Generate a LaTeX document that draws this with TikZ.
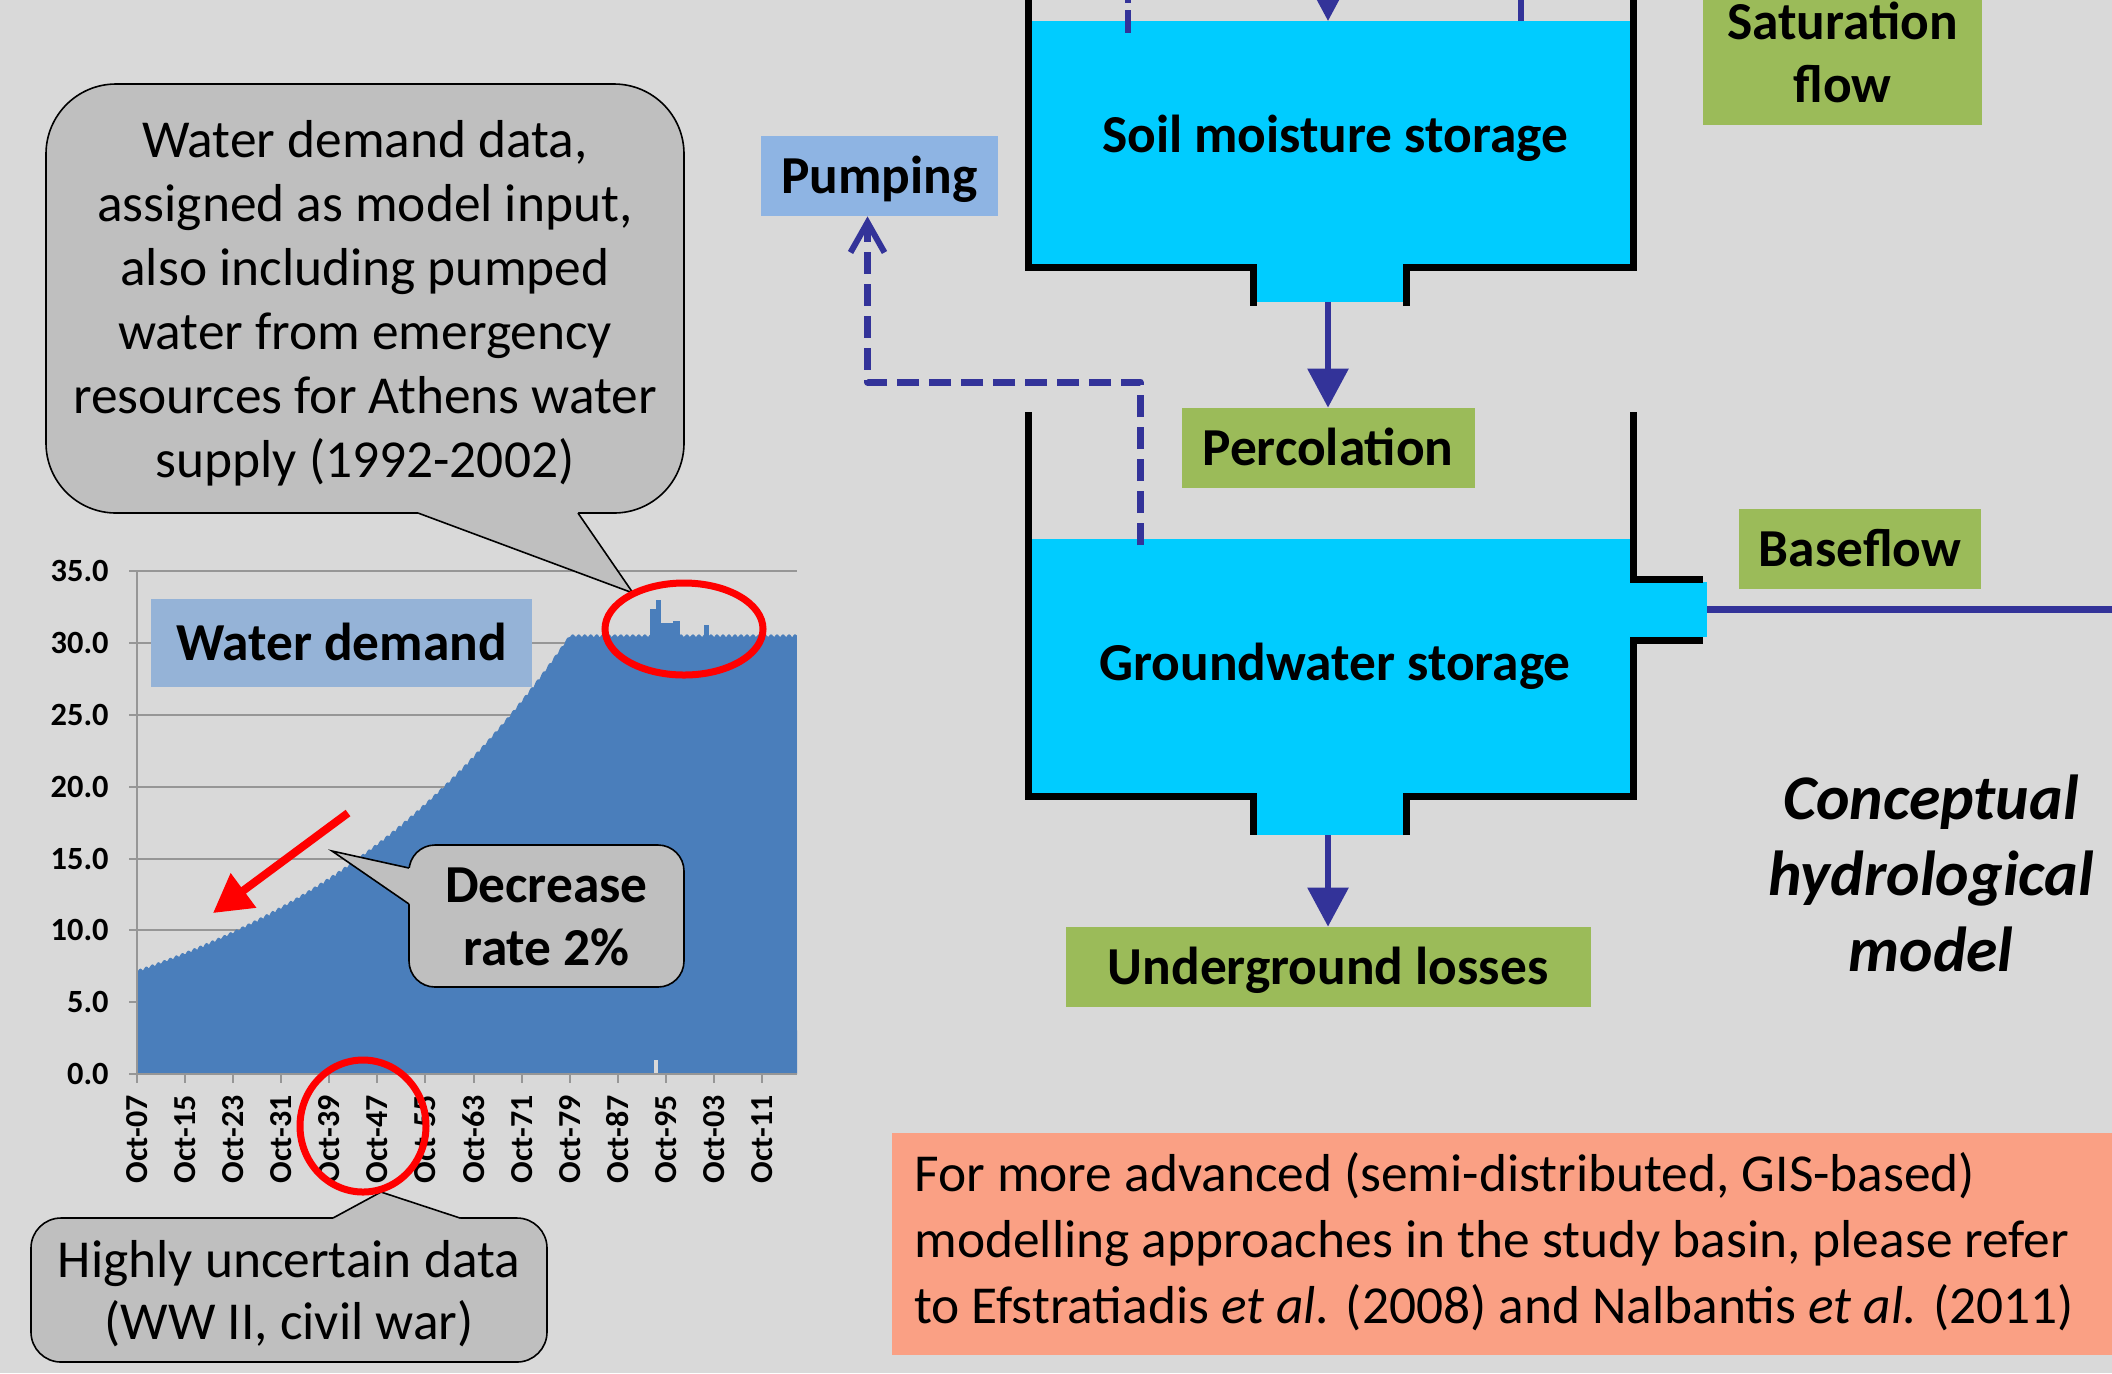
\documentclass[tikz,border=0pt]{standalone}
\usepackage{fontspec}
\setmainfont{Carlito}
\usetikzlibrary{arrows.meta}
\definecolor{bgc}{RGB}{217,217,217}
\definecolor{callgray}{RGB}{191,191,191}
\definecolor{demandblue}{RGB}{74,126,187}
\definecolor{labelblue}{RGB}{149,179,215}
\definecolor{pumpblue}{RGB}{142,180,227}
\definecolor{boxgreen}{RGB}{155,187,89}
\definecolor{waterc}{RGB}{0,204,255}
\definecolor{flowblue}{RGB}{51,51,153}
\definecolor{salmonc}{RGB}{250,160,132}
\definecolor{gridgray}{RGB}{150,150,150}
\tikzset{
  wall/.style={line width=3.5pt, black, line join=miter},
  waterfill/.style={fill=waterc},
  flow/.style={line width=3pt, flowblue},
  flowarrow/.style={flow, -{Triangle[length=19.5pt,width=20pt]}},
  pumpline/.style={line width=3.5pt, flowblue, dash pattern=on 11pt off 5pt, line join=round,
     -{Straight Barb[length=15pt,width=17pt,line width=3pt]}},
  onebox/.style={inner sep=0pt, minimum height=40pt, text height=20pt, text depth=2.5pt,
     font=\bfseries\fontsize{26.7pt}{32pt}\selectfont},
  greenbox/.style={onebox, fill=boxgreen},
  bigtext/.style={inner sep=0pt, text height=20pt, text depth=2.5pt,
     font=\bfseries\fontsize{26.7pt}{32pt}\selectfont},
  calltext/.style={inner sep=0pt, align=center, font=\fontsize{26.7pt}{32pt}\selectfont},
  callshape/.style={fill=callgray, draw=black, line width=0.8pt},
  callline/.style={draw=black, line width=0.8pt, line join=miter},
  gridl/.style={gridgray, line width=1pt},
  ylab/.style={inner sep=0pt, anchor=east, font=\bfseries\fontsize{16.2pt}{18pt}\selectfont},
  xlab/.style={inner sep=0pt, anchor=east, rotate=90, font=\bfseries\fontsize{16pt}{18pt}\selectfont},
  redring/.style={red, line width=3.5pt},
}
\begin{document}
\begin{tikzpicture}[x=0.5pt,y=-0.5pt]
\useasboundingbox (0,0) rectangle (2112,1373);
\fill[bgc] (0,0) rectangle (2112,1373);
\begin{scope}
\clip (0,0) rectangle (2112,1373);

% ---------------- chart ----------------
\foreach \i/\lab in {0/0.0,1/5.0,2/10.0,3/15.0,4/20.0,5/25.0,6/30.0,7/35.0}{
  \draw[gridl] (129,{1074-71.8*\i}) -- (797,{1074-71.8*\i});
  \node[ylab] (yl\i) at (109,{1074-71.8*\i}) {\lab};
}
\fill[demandblue] (137,1074) -- plot[domain=0:109.8,samples=560]
  ({137+6.01*\x},{1074-14.36*(min(30.4,30.4*exp((72-\x)*ln(0.98)))+0.22*sin(180*(\x-floor(\x)))))})
  -- (797,1074) -- cycle;
\fill[demandblue] (650,640) rectangle (655.5,609);
\fill[demandblue] (655.5,640) rectangle (661,600);
\fill[demandblue] (661,640) rectangle (679.5,623);
\fill[demandblue] (673,640) rectangle (679.5,620.5);
\fill[demandblue] (704,640) rectangle (709,624.5);
\fill[bgc] (654,1060) rectangle (658,1074);
\draw[gridl] (137,571) -- (137,1074) -- (797,1074);
\foreach \i/\lab in {0/07,1/15,2/23,3/31,4/39,5/47,6/55,7/63,8/71,9/79,10/87,11/95,12/03,13/11}{
  \draw[gridl] ({137+48.08*\i},1074) -- ++(0,9);
  \node[xlab] (xl\i) at ({137+48.08*\i},1095) {Oct-\lab};
}
\node[onebox, fill=labelblue, minimum width=190.5pt, minimum height=44pt] (wdlabel) at (341.5,643) {Water demand};

% red arrow
\coordinate (rarA) at (348,813);
\coordinate (rarB) at (213,913);
\draw[red, line width=4pt, -{Triangle[length=19pt,width=20.5pt]}] (rarA) -- (rarB);

% ---------------- callouts ----------------
\draw[callshape, rounded corners=35pt] (46,84) rectangle (684,513);
\fill[callgray] (418,505) -- (418,513) -- (633,593) -- (578,513) -- (578,505) -- cycle;
\draw[callline] (418,513) -- (633,593) -- (578,513);
\node[calltext] (call1) at (365,303) {Water demand data,\\assigned as model input,\\also including pumped\\water from emergency\\resources for Athens water\\supply (1992-2002)};

\draw[callshape, rounded corners=13pt] (409,845) rectangle (684,987);
\fill[callgray] (409,868) -- (332,851) -- (409,904) -- (416,904) -- (416,868) -- cycle;
\draw[callline] (409,868) -- (332,851) -- (409,904);
\node[calltext, font=\bfseries\fontsize{26.7pt}{31.5pt}\selectfont] (call2) at (546.5,917) {Decrease\\rate 2\%};

\draw[callshape, rounded corners=15pt] (31,1218) rectangle (547,1362);
\fill[callgray] (333,1226) -- (333,1218) -- (381,1192) -- (460,1218) -- (460,1226) -- cycle;
\draw[callline] (333,1218) -- (381,1192) -- (460,1218);
\node[calltext, font=\fontsize{26.7pt}{31pt}\selectfont] (call3) at (289,1294) {Highly uncertain data\\(WW II, civil war)};

% red ellipses
\draw[redring] (684,629) ellipse [x radius=39.5pt, y radius=23pt];
\draw[redring] (363,1126) ellipse [x radius=31.5pt, y radius=33pt];

% ---------------- tanks ----------------
% soil moisture tank
\fill[waterfill] (1031,21) rectangle (1630,267);
\fill[waterfill] (1253,264) rectangle (1406,302);
\draw[wall] (1028,-10) -- (1028,267) -- (1253,267) -- (1253,306);
\draw[wall] (1406,306) -- (1406,267) -- (1633,267) -- (1633,-10);
\node[bigtext] (soiltxt) at (1335,135) {Soil moisture storage};

% groundwater tank
\fill[waterfill] (1031,539) rectangle (1630,796);
\fill[waterfill] (1253,793) rectangle (1406,835);
\fill[waterfill] (1628,582) rectangle (1707,637);
\draw[wall] (1028,412) -- (1028,796) -- (1253,796) -- (1253,835);
\draw[wall] (1406,835) -- (1406,796) -- (1633,796) -- (1633,640) -- (1703,640);
\draw[wall] (1703,579) -- (1633,579) -- (1633,412);
\node[bigtext] (gwtxt) at (1335,663) {Groundwater storage};

% ---------------- boxes ----------------
\node[onebox, fill=pumpblue, minimum width=118.5pt] (pump) at (879.5,176) {Pumping};
\node[greenbox, minimum width=146.5pt] (perc) at (1328,448) {Percolation};
\node[greenbox, minimum width=121pt] (base) at (1860,549) {Baseflow};
\node[greenbox, minimum width=262.5pt] (uloss) at (1328,967) {Underground losses};
\node[inner sep=0pt, fill=boxgreen, minimum width=139.5pt, minimum height=72.5pt, align=center,
      font=\bfseries\fontsize{26.7pt}{31.5pt}\selectfont] (sat) at (1842.5,52.5) {Saturation\\flow};

% ---------------- flows ----------------
\coordinate (topin) at (1328,-70);
\coordinate (soilsurf) at (1328,21);
\draw[flowarrow] (topin) -- (soilsurf);
\coordinate (dtop) at (1128,-10);
\coordinate (dbot) at (1128,33);
\draw[flow, dash pattern=on 6.5pt off 3.5pt on 11.5pt off 5pt] (dtop) -- (dbot);
\coordinate (stop) at (1521,-10);
\coordinate (sbot) at (1521,21);
\draw[flow] (stop) -- (sbot);
\coordinate (soilout) at (1328,302);
\draw[flowarrow] (soilout) -- (perc.north);
\coordinate (gwout) at (1328,835);
\draw[flowarrow] (gwout) -- (uloss.north);
\coordinate (gwside) at (1707,609.5);
\coordinate (bfend) at (2125,609.5);
\draw[line width=3.5pt, flowblue] (gwside) -- (bfend);
\coordinate (gwpump) at (1140,545);
\draw[pumpline] (gwpump) -- (1140,382) -| ([xshift=-6pt]pump.south);

% ---------------- texts ----------------
\node[inner sep=0pt, align=center, font=\bfseries\itshape\fontsize{31.8pt}{38pt}\selectfont] (concept) at (1931,873) {Conceptual\\hydrological\\model};

\node[fill=salmonc, minimum width=620pt, minimum height=111pt, inner sep=0pt, anchor=north west] (refbox) at (892,1133) {};
\node[inner sep=0pt, align=left, anchor=west, font=\fontsize{26.7pt}{33pt}\selectfont] (refs) at (914,1242)
  {For more advanced (semi-distributed, GIS-based)\\modelling approaches in the study basin, please refer\\to Efstratiadis \textit{et al.} (2008) and Nalbantis \textit{et al.} (2011)};
\end{scope}
\end{tikzpicture}
\end{document}
